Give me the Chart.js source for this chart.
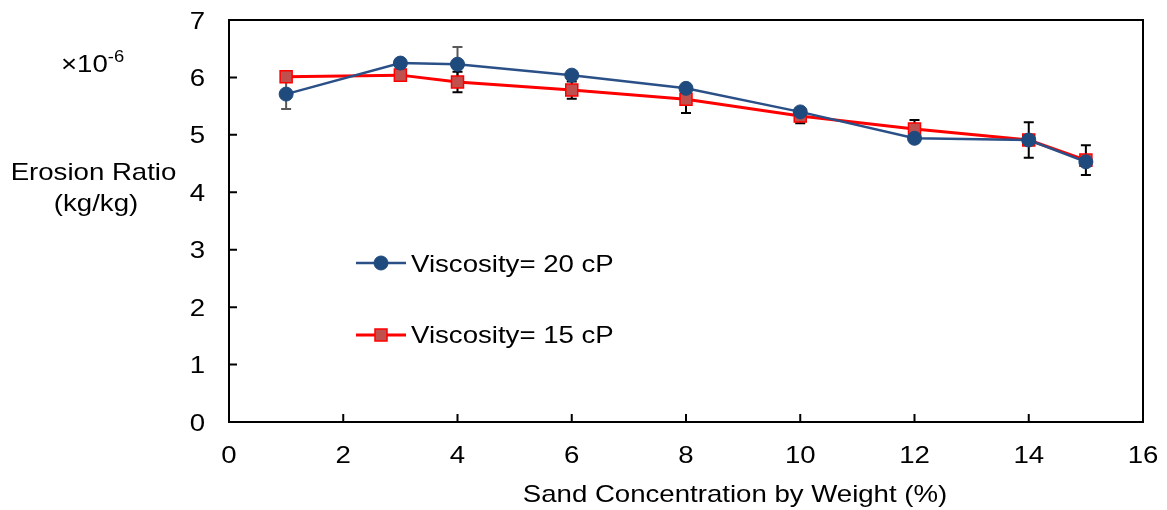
<!DOCTYPE html>
<html><head><meta charset="utf-8">
<script src="https://cdn.jsdelivr.net/npm/chart.js@4"></script>
<style>html,body{margin:0;padding:0;background:#fff}#wrap{width:1167px;height:510px;position:relative}</style>
</head><body><div id="wrap"><canvas id="c" width="1167" height="510"></canvas></div>
<script>
const xValues = [1, 3, 4, 6, 8, 10, 12, 14, 15];
const visc20 = [5.71, 6.25, 6.23, 6.04, 5.81, 5.40, 4.94, 4.91, 4.53];
const visc20Err = [0.26, 0.06, 0.30, 0.05, 0.05, 0.05, 0.05, 0.05, 0.05];
const visc15 = [6.01, 6.04, 5.92, 5.78, 5.62, 5.33, 5.10, 4.91, 4.56];
const visc15Err = [0.05, 0.10, 0.18, 0.15, 0.24, 0.13, 0.16, 0.31, 0.26];
const seriesNames = ['Viscosity= 20 cP', 'Viscosity= 15 cP'];
const xTicks = [0, 2, 4, 6, 8, 10, 12, 14, 16];
const yTicks = [0, 1, 2, 3, 4, 5, 6, 7];
const xTitle = 'Sand Concentration by Weight (%)';
const yTitle = ['Erosion Ratio', '(kg/kg)'];

const FONT = 'Liberation Sans, Arial, sans-serif';
const FS = 24, SX = 1.15;

function txt(ctx, s, x, y, align, size, sx) {
  ctx.save();
  ctx.translate(x, y);
  ctx.scale(sx || SX, 1);
  ctx.font = (size || FS) + 'px ' + FONT;
  ctx.textAlign = align; ctx.textBaseline = 'alphabetic';
  ctx.fillStyle = '#000';
  ctx.fillText(s, 0, 0);
  ctx.restore();
}

const errorBars = {
  id: 'errorBars',
  beforeDatasetsDraw(chart) {
    const ctx = chart.ctx, xs = chart.scales.x, ys = chart.scales.y;
    chart.data.datasets.forEach((ds) => {
      ctx.save();
      ctx.strokeStyle = ds.errColor;
      ctx.lineWidth = 2;
      ds.data.forEach((p, i) => {
        const e = ds.errors[i];
        const px = xs.getPixelForValue(p.x);
        const yt = ys.getPixelForValue(p.y + e), yb = ys.getPixelForValue(p.y - e);
        ctx.beginPath();
        ctx.moveTo(px, yt); ctx.lineTo(px, yb);
        ctx.moveTo(px - 5, yt); ctx.lineTo(px + 5, yt);
        ctx.moveTo(px - 5, yb); ctx.lineTo(px + 5, yb);
        ctx.stroke();
      });
      ctx.restore();
    });
  }
};

const frame = {
  id: 'frame',
  afterDraw(chart) {
    const ctx = chart.ctx, a = chart.chartArea, xs = chart.scales.x, ys = chart.scales.y;
    ctx.save();
    ctx.strokeStyle = '#000'; ctx.lineWidth = 2;
    ctx.strokeRect(a.left, a.top, a.right - a.left, a.bottom - a.top);
    ctx.beginPath();
    xTicks.forEach(v => { const px = xs.getPixelForValue(v); ctx.moveTo(px, a.bottom); ctx.lineTo(px, a.bottom - 8); });
    yTicks.forEach(v => { const py = ys.getPixelForValue(v); ctx.moveTo(a.left, py); ctx.lineTo(a.left + 8, py); });
    ctx.stroke();
    ctx.restore();

    // tick labels
    xTicks.forEach(v => txt(ctx, String(v), xs.getPixelForValue(v), 463, 'center'));
    yTicks.forEach(v => txt(ctx, String(v), 205, ys.getPixelForValue(v) + 8.5, 'right'));

    // axis titles
    txt(ctx, xTitle, 735, 502, 'center');
    txt(ctx, yTitle[0], 93.5, 180, 'center');
    txt(ctx, yTitle[1], 96, 211, 'center');
    txt(ctx, '\u00d710', 61, 72, 'left');
    ctx.save(); ctx.font = FS + 'px ' + FONT;
    const w = ctx.measureText('\u00d710').width * SX; ctx.restore();
    txt(ctx, '-6', 61 + w, 62, 'left', 16);

    // legend
    const items = [
      { ly: 263, ty: 271.5, ds: chart.data.datasets[0], name: seriesNames[0] },
      { ly: 335, ty: 343, ds: chart.data.datasets[1], name: seriesNames[1] }
    ];
    items.forEach(it => {
      const ds = it.ds;
      ctx.save();
      ctx.strokeStyle = ds.borderColor; ctx.lineWidth = ds.borderWidth;
      ctx.beginPath(); ctx.moveTo(356, it.ly); ctx.lineTo(406, it.ly); ctx.stroke();
      ctx.fillStyle = ds.pointBackgroundColor; ctx.strokeStyle = ds.pointBorderColor; ctx.lineWidth = ds.pointBorderWidth;
      ctx.beginPath();
      if (ds.pointStyle === 'circle') { ctx.arc(381, it.ly, ds.pointRadius, 0, Math.PI * 2); }
      else { const s = ds.pointRadius * Math.SQRT1_2; ctx.rect(381 - s, it.ly - s, 2 * s, 2 * s); }
      ctx.fill(); ctx.stroke();
      ctx.restore();
      txt(ctx, it.name, 411, it.ty, 'left');
    });
  }
};

const mk = (xs, ys) => xs.map((x, i) => ({ x: x, y: ys[i] }));

new Chart(document.getElementById('c'), {
  type: 'scatter',
  data: {
    datasets: [
      {
        label: seriesNames[0], data: mk(xValues, visc20), errors: visc20Err, errColor: '#595959',
        showLine: true, borderColor: '#2a5087', borderWidth: 2.5,
        pointStyle: 'circle', pointRadius: 7, pointHoverRadius: 7,
        pointBackgroundColor: '#1f4a7e', pointBorderColor: '#1f4a7e', pointBorderWidth: 1
      },
      {
        label: seriesNames[1], data: mk(xValues, visc15), errors: visc15Err, errColor: '#000000',
        showLine: true, borderColor: '#ff0000', borderWidth: 3,
        pointStyle: 'rect', pointRadius: 8.5, pointHoverRadius: 8.5,
        pointBackgroundColor: '#c0504d', pointBorderColor: '#ff0000', pointBorderWidth: 1.5
      }
    ]
  },
  options: {
    responsive: false, animation: false, devicePixelRatio: 1,
    layout: { padding: { top: 20, right: 24, left: 0, bottom: 0 } },
    plugins: { legend: { display: false }, tooltip: { enabled: false } },
    scales: {
      x: {
        type: 'linear', min: 0, max: 16,
        afterBuildTicks: s => { s.ticks = xTicks.map(v => ({ value: v })); },
        grid: { display: false, drawTicks: false },
        border: { display: false },
        ticks: { display: false },
        afterFit: s => { s.height = 88; }
      },
      y: {
        type: 'linear', min: 0, max: 7,
        afterBuildTicks: s => { s.ticks = yTicks.map(v => ({ value: v })); },
        grid: { display: false, drawTicks: false },
        border: { display: false },
        ticks: { display: false },
        afterFit: s => { s.width = 229; }
      }
    }
  },
  plugins: [errorBars, frame]
});
</script></body></html>
